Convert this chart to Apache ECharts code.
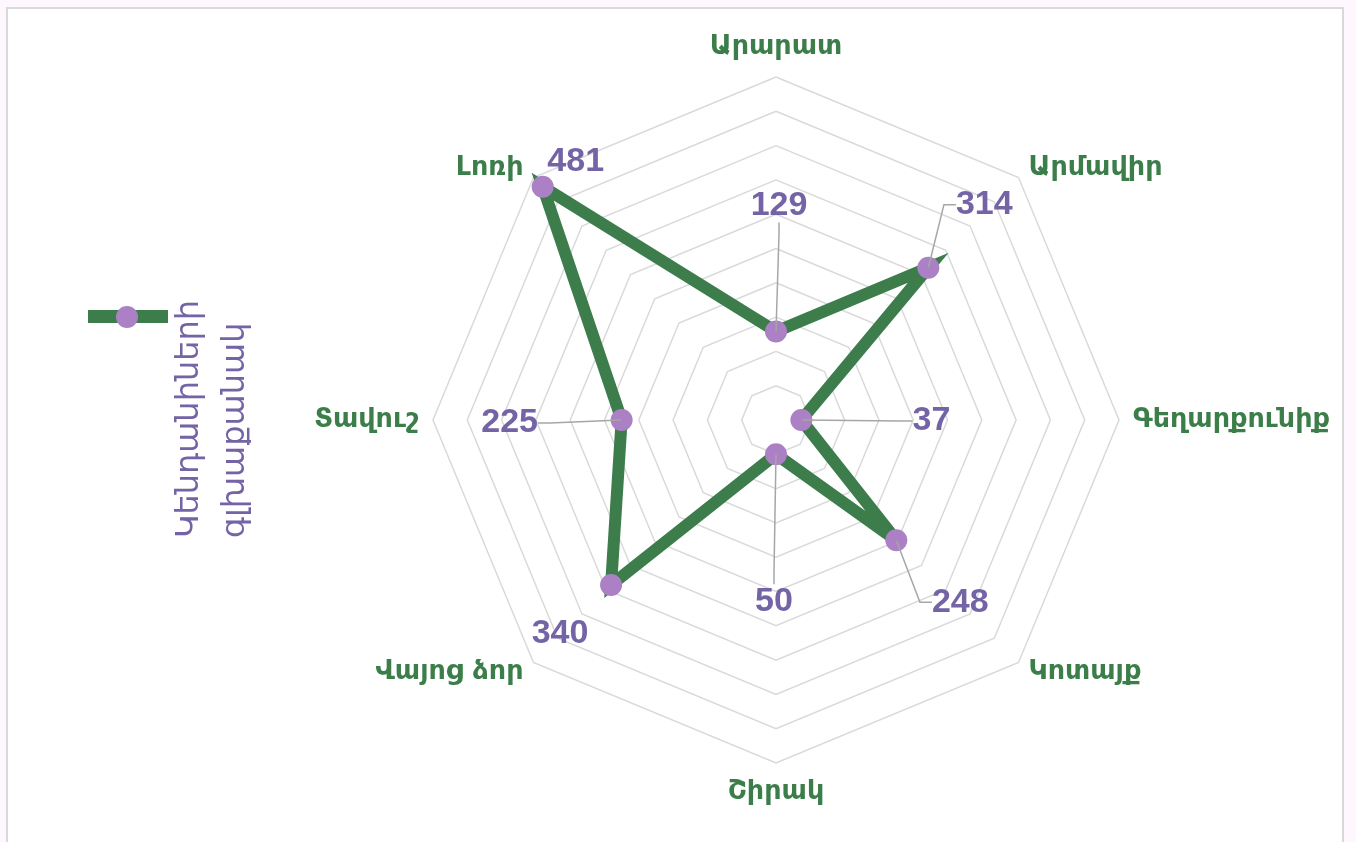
<!DOCTYPE html>
<html><head><meta charset="utf-8">
<script src="https://cdn.jsdelivr.net/npm/echarts@6/dist/echarts.min.js"></script>
<style>
html,body{margin:0;padding:0;background:#fef7fe;width:1356px;height:842px;overflow:hidden;}
#frame{position:absolute;left:6px;top:7px;width:1338px;height:900px;border:2px solid #d9d9d9;background:#fff;box-sizing:border-box;}
#chart{position:absolute;left:0;top:0;width:1356px;height:842px;}
</style></head><body><div id="frame"></div><div id="chart"></div>
<script>
// ---- data ----
const categories = ['Արարատ', 'Արմավիր', 'Գեղարքունիք', 'Կոտայք', 'Շիրակ', 'Վայոց ձոր', 'Տավուշ', 'Լոռի'];
const values = [129, 314, 37, 248, 50, 340, 225, 481];
const seriesName = 'Կենդանիների գլխաքանակ';
const legendLines = ['Կենդանիների', 'գլխաքանակ'];
const axisMax = 500;
const ringCount = 10;

// ---- style / layout ----
const GREEN = '#3d7d4c';
const GREEN_TXT = '#3b7e4a';
const PURPLE_PT = '#ab80c5';
const PURPLE_TXT = '#7464a6';
const CENTER = [776, 420];
const RADIUS = 343;
// label offsets from their point (layout only)
const LABEL_LAYOUT = [
  { dx: 3, dy: -126, line: true },
  { dx: 56, dy: -63, line: true },
  { dx: 130, dy: 1, line: true },
  { dx: 64, dy: 62, line: true },
  { dx: -2, dy: 147, line: true },
  { dx: -51, dy: 49, line: false },
  { dx: -112, dy: 3, line: true },
  { dx: 33, dy: -25, line: false }
];

// radar indicators run counter-clockwise; reference runs clockwise
const ccwOrder = categories.map((_, i) => (categories.length - i) % categories.length);

const chart = echarts.init(document.getElementById('chart'));
const nameFont = { fontFamily: 'DejaVu Sans', fontWeight: 'bold', fontSize: 27, color: GREEN_TXT };

chart.setOption({
  animation: false,
  backgroundColor: 'transparent',
  radar: {
    center: CENTER,
    radius: RADIUS,
    startAngle: 90,
    splitNumber: ringCount,
    shape: 'polygon',
    nameGap: 14,
    indicator: ccwOrder.map(i => ({ name: categories[i], min: 0, max: axisMax })),
    axisName: Object.assign({}, nameFont, {
      verticalAlign: 'middle',
      formatter: function (name) {
        if (name === categories[0]) return '{up|' + name + '}';
        if (name === categories[4]) return '{down|' + name + '}';
        return name;
      },
      rich: {
        up: Object.assign({}, nameFont, { padding: [0, 0, 32, 0] }),
        down: Object.assign({}, nameFont, { padding: [30, 0, 0, 0] })
      }
    }),
    axisLine: { show: false },
    axisTick: { show: false },
    axisLabel: { show: false },
    splitArea: { show: false },
    splitLine: { lineStyle: { color: '#d9d9d9', width: 1.5 } }
  },
  polar: { center: CENTER, radius: [0, RADIUS] },
  angleAxis: { type: 'category', data: categories, startAngle: 90, clockwise: true, boundaryGap: false, show: false },
  radiusAxis: { type: 'value', min: 0, max: axisMax, show: false },
  legend: [
    { data: [seriesName], left: 88, top: 310, padding: 0, icon: 'rect', itemWidth: 80, itemHeight: 13,
      itemStyle: { color: GREEN, borderWidth: 0 }, formatter: () => '', selectedMode: false },
    { data: [seriesName], left: 116, top: 306, padding: 0, icon: 'circle', itemWidth: 22, itemHeight: 22,
      itemStyle: { color: PURPLE_PT, borderWidth: 0 }, formatter: () => '', selectedMode: false }
  ],
  graphic: [{
    type: 'text', x: 167, y: 538, rotation: Math.PI / 2,
    style: { text: legendLines.join('\n'), fill: PURPLE_TXT, fontSize: 32, fontFamily: 'DejaVu Sans',
      lineHeight: 46, align: 'left', verticalAlign: 'top' }
  }],
  series: [
    {
      type: 'radar', name: seriesName, z: 2,
      symbol: 'circle', symbolSize: 22,
      itemStyle: { color: PURPLE_PT },
      lineStyle: { color: GREEN, width: 12, join: 'miter', miterLimit: 5 },
      label: { show: false },
      data: [{ name: seriesName, value: ccwOrder.map(i => values[i]) }]
    },
    {
      type: 'scatter', coordinateSystem: 'polar', z: 5,
      symbolSize: 1, itemStyle: { color: 'rgba(0,0,0,0)', opacity: 1 },
      data: values.map((v, i) => ({ value: [v, categories[i]], labelLine: { show: LABEL_LAYOUT[i].line } })),
      label: {
        show: true, position: 'inside', formatter: p => String(p.value[0]), opacity: 1,
        color: PURPLE_TXT, fontSize: 34, fontWeight: 'bold', fontFamily: 'Liberation Sans'
      },
      labelLine: { show: true, length2: 12, lineStyle: { color: '#a6a6a6', width: 1.5, opacity: 1 } },
      labelLayout: p => ({ dx: LABEL_LAYOUT[p.dataIndex].dx, dy: LABEL_LAYOUT[p.dataIndex].dy })
    }
  ]
});
</script></body></html>
